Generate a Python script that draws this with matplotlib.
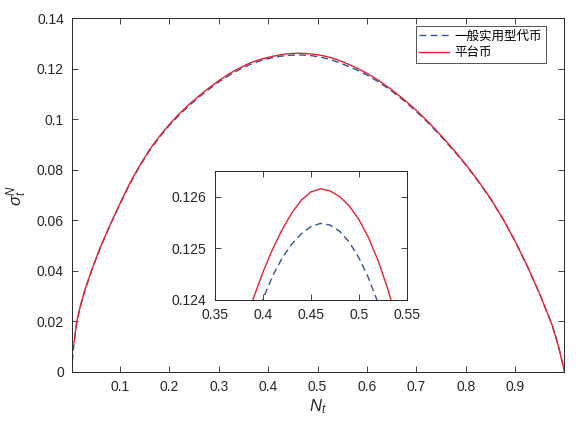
import matplotlib
matplotlib.use("Agg")
import matplotlib.pyplot as plt

# values (平台币 = red, 一般实用型代币 = blue)
n_red = [0.007, 0.0125, 0.02, 0.03, 0.045, 0.06, 0.08, 0.1,
         0.12, 0.14, 0.16, 0.18, 0.2, 0.22, 0.24, 0.26, 0.28, 0.3, 0.32, 0.34, 0.36,
         0.37, 0.38, 0.39, 0.4, 0.41, 0.42, 0.43, 0.44, 0.45, 0.46, 0.47, 0.48, 0.49,
         0.5, 0.51, 0.52, 0.53, 0.54, 0.55,
         0.575, 0.6, 0.625, 0.65, 0.675, 0.7, 0.725, 0.75, 0.775, 0.8, 0.825, 0.85,
         0.875, 0.9, 0.925, 0.95, 0.975, 0.9875, 1.0]
sigma_red = [0.0115, 0.0198, 0.0262, 0.0330, 0.0415, 0.0492, 0.0582, 0.0666,
             0.0747, 0.0817, 0.0880, 0.0933, 0.0980, 0.1022, 0.1059, 0.1093, 0.1124,
             0.1153, 0.1179, 0.1201, 0.1220,
             0.12279, 0.12345, 0.12403, 0.12454, 0.12498, 0.12536, 0.12568, 0.12593,
             0.12609, 0.12615, 0.12611, 0.12600, 0.12582, 0.12556, 0.12521, 0.12477,
             0.12423, 0.12359, 0.12285,
             0.12072, 0.11822, 0.11522, 0.11172, 0.10782, 0.10352, 0.09877, 0.09352,
             0.08802, 0.08215, 0.07565, 0.06865, 0.06065, 0.05165, 0.04165, 0.03065,
             0.01840, 0.0102, 0.0]

n_blue = [0.0035, 0.007, 0.0125, 0.02, 0.03, 0.045, 0.06, 0.08, 0.1,
          0.12, 0.14, 0.16, 0.18, 0.2, 0.22, 0.24, 0.26, 0.28, 0.3, 0.32, 0.34, 0.36,
          0.37, 0.38, 0.39, 0.4, 0.41, 0.42, 0.43, 0.44, 0.45, 0.46, 0.47, 0.48, 0.49,
          0.5, 0.51, 0.52, 0.53, 0.54, 0.55,
          0.575, 0.6, 0.625, 0.65, 0.675, 0.7, 0.725, 0.75, 0.775, 0.8, 0.825, 0.85,
          0.875, 0.9, 0.925, 0.95, 0.975, 0.9875, 1.0]
sigma_blue = [0.0040, 0.0113, 0.0196, 0.0260, 0.0328, 0.0413, 0.0490, 0.0580, 0.0664,
              0.0744, 0.0814, 0.0876, 0.0929, 0.0976, 0.1017, 0.1054, 0.1088, 0.1119,
              0.1148, 0.1173, 0.1195, 0.1214,
              0.12222, 0.12290, 0.12352, 0.12402, 0.12446, 0.12481, 0.12508, 0.12528,
              0.12542, 0.12548, 0.12545, 0.12533, 0.12512, 0.12482, 0.12443, 0.12395,
              0.12338, 0.12272, 0.12197,
              0.11995, 0.11752, 0.11460, 0.11117, 0.10732, 0.10307, 0.09837, 0.09317,
              0.08772, 0.08190, 0.07545, 0.06850, 0.06055, 0.05158, 0.04160, 0.03062,
              0.01838, 0.01019, 0.0]

labels = ["一般实用型代币", "平台币"]

x_ticks = [0.1, 0.2, 0.3, 0.4, 0.5, 0.6, 0.7, 0.8, 0.9]
y_ticks = [0, 0.02, 0.04, 0.06, 0.08, 0.1, 0.12, 0.14]
y_ticklabels = ["0", "0.02", "0.04", "0.06", "0.08", "0.1", "0.12", "0.14"]
inset_x_ticks = [0.35, 0.4, 0.45, 0.5, 0.55]
inset_x_ticklabels = ["0.35", "0.4", "0.45", "0.5", "0.55"]
inset_y_ticks = [0.124, 0.125, 0.126]
inset_y_ticklabels = ["0.124", "0.125", "0.126"]

plt.rcParams["font.family"] = ["Liberation Sans", "Noto Sans CJK SC"]
plt.rcParams["mathtext.fontset"] = "custom"
plt.rcParams["mathtext.it"] = "Liberation Sans:italic"
plt.rcParams["mathtext.rm"] = "Liberation Sans"

blue = "#2f5597"
red = "#e8212e"
grey = "#262626"


def style_axes(ax):
    for sp in ax.spines.values():
        sp.set_color(grey)
        sp.set_linewidth(0.7)
    ax.tick_params(direction="in", length=4, width=0.6, colors=grey,
                   labelsize=10, top=True, right=True, pad=6)


fig = plt.figure(figsize=(5.84, 4.22), dpi=100)
ax = fig.add_axes([0.1238, 0.1192, 0.8425, 0.8374])
ax.plot(n_blue, sigma_blue, "--", color=blue, lw=1.0, dashes=(5, 3), label=labels[0])
ax.plot(n_red, sigma_red, "-", color=red, lw=1.0, label=labels[1])
ax.set_xlim(0.0035, 0.9995)
ax.set_ylim(0, 0.14)
ax.set_xticks(x_ticks)
ax.set_xticklabels([f"{v:g}" for v in x_ticks])
ax.set_yticks(y_ticks)
ax.set_yticklabels(y_ticklabels)
style_axes(ax)
ax.set_xlabel(r"$N_t$", fontsize=12, color=grey, labelpad=2)
ax.set_ylabel(r"$\sigma_t^N$", fontsize=12, color=grey, labelpad=6)

leg = ax.legend(loc="upper right", bbox_to_anchor=(0.962, 0.978), frameon=True,
                fancybox=False, edgecolor=grey, handlelength=2.4, handletextpad=0.4,
                borderpad=0.3, labelspacing=0.25, borderaxespad=0,
                prop={"family": ["Noto Sans CJK SC"], "size": 9})
leg.get_frame().set_linewidth(0.7)

axin = fig.add_axes([0.3682, 0.2891, 0.3282, 0.3064])
axin.plot(n_blue, sigma_blue, "--", color=blue, lw=1.0, dashes=(5, 3))
axin.plot(n_red, sigma_red, "-", color=red, lw=1.0)
axin.set_xlim(0.35, 0.55)
axin.set_ylim(0.124, 0.1265)
axin.set_xticks(inset_x_ticks)
axin.set_xticklabels(inset_x_ticklabels)
axin.set_yticks(inset_y_ticks)
axin.set_yticklabels(inset_y_ticklabels)
style_axes(axin)

fig.savefig("out.png", dpi=100)
